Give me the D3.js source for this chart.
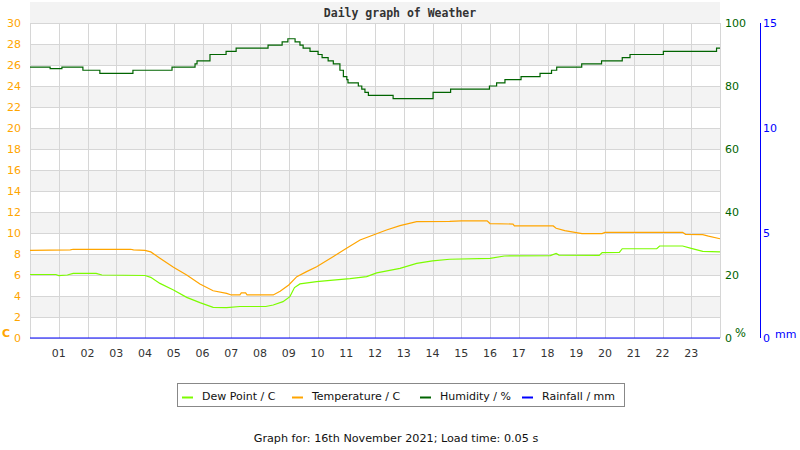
<!DOCTYPE html>
<html lang="en">
<head>
    <meta charset="UTF-8">
    <title>Daily graph of Weather</title>
    <style>
        body { margin: 0; background: #fff; }
        text { font-family: "DejaVu Sans", sans-serif; }
    </style>
</head>
<body>
<script src="https://cdn.jsdelivr.net/npm/d3@7/dist/d3.min.js"></script>
<script type="text/javascript">
    // chart size and plot area
    var w = 800;
    var h = 450;
    var plotLeft = 30, plotRight = 720, plotTop = 23, plotBottom = 338;

    // hour tick labels
    var hourLabels = ["01","02","03","04","05","06","07","08","09","10","11","12",
        "13","14","15","16","17","18","19","20","21","22","23"];
    var tempTicks = [0, 2, 4, 6, 8, 10, 12, 14, 16, 18, 20, 22, 24, 26, 28, 30];
    var humTicks = [0, 20, 40, 60, 80, 100];
    var rainTicks = [0, 5, 10, 15];

    // temperature / C
    var tempHours = [0, 1.4, 1.5, 3.5, 3.6, 4.0, 4.2, 4.52, 4.99, 5.45, 5.91, 6.37, 6.84, 7.0, 7.3, 7.35,
        7.5, 7.55, 8.46, 8.7, 9.0, 9.28, 9.62, 9.97, 10.54, 11.01, 11.48, 11.94, 12.4, 12.87, 13.45,
        14.6, 15.0, 15.9, 16.0, 16.8, 16.85, 18.2, 18.3, 18.6, 19.2, 19.9, 20.0, 22.7, 22.8, 23.4, 23.6, 24];
    var tempValues = [8.35, 8.4, 8.45, 8.45, 8.4, 8.35, 8.2, 7.6, 6.73, 6.0, 5.15, 4.5, 4.25, 4.1, 4.1, 4.3,
        4.3, 4.1, 4.1, 4.45, 5.05, 5.84, 6.32, 6.79, 7.74, 8.54, 9.33, 9.81, 10.29, 10.7, 11.08,
        11.1, 11.15, 11.15, 10.9, 10.85, 10.67, 10.67, 10.45, 10.22, 9.95, 9.95, 10.06, 10.06, 9.87, 9.85, 9.7, 9.45];

    // dew point / C
    var dewHours = [0, 0.9, 1.0, 1.3, 1.5, 2.3, 2.5, 4.0, 4.2, 4.52, 4.99, 5.45, 5.91, 6.37, 6.84, 7.3,
        8.2, 8.46, 8.8, 9.04, 9.2, 9.39, 9.97, 10.54, 11.13, 11.71, 12.06, 12.87, 13.45, 14.0, 14.6,
        16.0, 16.5, 18.1, 18.3, 18.4, 19.8, 19.9, 20.5, 20.6, 21.8, 21.9, 22.7, 23.0, 23.4, 24];
    var dewValues = [6.05, 6.05, 5.95, 6.0, 6.15, 6.15, 6.0, 5.95, 5.78, 5.2, 4.57, 3.87, 3.37, 2.92, 2.9, 3.0,
        3.0, 3.14, 3.46, 3.94, 4.8, 5.15, 5.37, 5.52, 5.65, 5.84, 6.2, 6.63, 7.1, 7.35, 7.5,
        7.59, 7.81, 7.85, 8.06, 7.9, 7.87, 8.13, 8.15, 8.5, 8.5, 8.76, 8.76, 8.54, 8.25, 8.2];

    // humidity / % (stepped)
    var humHours = [0, 0.7, 1.11, 1.84, 2.43, 3.58, 4.94, 5.74, 5.81, 6.26, 6.82, 7.17, 8.28, 8.77, 8.97,
        9.22, 9.39, 9.5, 9.74, 10.02, 10.16, 10.37, 10.55, 10.78, 10.9, 11.02, 11.06, 11.42, 11.54, 11.65,
        11.77, 12.63, 14.02, 14.63, 15.98, 16.23, 16.52, 17.08, 17.74, 18.14, 18.32, 19.19, 19.88, 20.6,
        20.87, 22.03, 23.88, 24];
    var humValues = [86, 85.5, 86, 85, 84, 85, 86, 87, 88, 90, 91, 92, 93, 94, 95,
        94, 93, 92, 91, 90, 89, 88, 87, 85, 83, 82, 81, 80, 79, 78,
        77, 76, 78, 79, 80, 81, 82, 83, 84, 85, 86, 87, 88, 89,
        90, 91, 92, 92];

    // rainfall / mm
    var rainHours = [0, 24];
    var rainValues = [0, 0];

    var legendNames = ["Dew Point / C", "Temperature / C", "Humidity / %", "Rainfall / mm"];
    var legendColors = ["#7cfc00", "#ffa500", "#006400", "#0000ff"];

    var xScale = d3.scaleLinear().domain([0, 24]).range([plotLeft, plotRight]);
    var tScale = d3.scaleLinear().domain([0, 30]).range([plotBottom, plotTop]);
    var hScale = d3.scaleLinear().domain([0, 100]).range([plotBottom, plotTop]);
    var rScale = d3.scaleLinear().domain([0, 15]).range([plotBottom, plotTop]);

    var svg = d3.select("body")
        .append("svg")
        .attr("width", w)
        .attr("height", h);

    // shaded bands
    svg.selectAll("rect.band")
        .data(tempTicks.filter(function(d) { return d % 4 === 2; }))
        .enter()
        .append("rect")
        .attr("class", "band")
        .attr("x", plotLeft)
        .attr("y", function(d) { return tScale(d + 2); })
        .attr("width", plotRight - plotLeft)
        .attr("height", function(d) { return tScale(d) - tScale(d + 2); })
        .attr("fill", "#f3f3f3");

    // grid
    svg.selectAll("line.hgrid")
        .data(tempTicks)
        .enter()
        .append("line")
        .attr("class", "hgrid")
        .attr("x1", plotLeft).attr("x2", plotRight)
        .attr("y1", function(d) { return Math.round(tScale(d)) + 0.5; })
        .attr("y2", function(d) { return Math.round(tScale(d)) + 0.5; })
        .attr("stroke", "#d6d6d6");
    svg.selectAll("line.vgrid")
        .data(d3.range(0, 25))
        .enter()
        .append("line")
        .attr("class", "vgrid")
        .attr("x1", function(d) { return Math.round(xScale(d)) + 0.5; })
        .attr("x2", function(d) { return Math.round(xScale(d)) + 0.5; })
        .attr("y1", plotTop).attr("y2", plotBottom)
        .attr("stroke", "#d6d6d6");

    // left axis labels
    svg.selectAll("text.tl")
        .data(tempTicks)
        .enter()
        .append("text")
        .attr("class", "tl")
        .attr("x", 21)
        .attr("y", function(d) { return tScale(d) + 4; })
        .attr("text-anchor", "end")
        .attr("font-size", "11px")
        .attr("fill", "#ffa500")
        .text(function(d) { return d; });
    svg.append("text")
        .attr("x", 2).attr("y", 337)
        .attr("font-size", "11px").attr("font-weight", "bold")
        .attr("fill", "#ffa500")
        .text("C");

    // humidity axis labels
    svg.selectAll("text.hl")
        .data(humTicks)
        .enter()
        .append("text")
        .attr("class", "hl")
        .attr("x", 725)
        .attr("y", function(d) { return hScale(d) + 4; })
        .attr("font-size", "11px")
        .attr("fill", "#006400")
        .text(function(d) { return d; });
    svg.append("text")
        .attr("x", 735).attr("y", 337)
        .attr("font-size", "11.5px")
        .attr("fill", "#006400")
        .text("%");

    // rainfall axis
    svg.append("line")
        .attr("x1", 760.5).attr("x2", 760.5)
        .attr("y1", plotTop).attr("y2", plotBottom)
        .attr("stroke", "#0000ff");
    svg.selectAll("text.rl")
        .data(rainTicks)
        .enter()
        .append("text")
        .attr("class", "rl")
        .attr("x", 763)
        .attr("y", function(d) { return rScale(d) + 4; })
        .attr("font-size", "11px")
        .attr("fill", "#0000ff")
        .text(function(d) { return d; });
    svg.append("text")
        .attr("x", 775).attr("y", 338)
        .attr("font-size", "11px")
        .attr("fill", "#0000ff")
        .text("mm");

    // hour labels
    svg.selectAll("text.xl")
        .data(hourLabels)
        .enter()
        .append("text")
        .attr("class", "xl")
        .attr("x", function(d, i) { return xScale(i + 1); })
        .attr("y", 357)
        .attr("text-anchor", "middle")
        .attr("font-size", "11px")
        .attr("fill", "#333")
        .text(function(d) { return d; });

    // series
    function drawSeries(hours, values, scale, color, curve) {
        var line = d3.line()
            .x(function(d) { return xScale(d[0]); })
            .y(function(d) { return scale(d[1]); })
            .curve(curve);
        svg.append("path")
            .datum(d3.zip(hours, values))
            .attr("d", line)
            .attr("fill", "none")
            .attr("stroke", color)
            .attr("stroke-width", 1.2);
    }
    drawSeries(humHours, humValues, hScale, "#006400", d3.curveStepAfter);
    drawSeries(tempHours, tempValues, tScale, "#ffa500", d3.curveLinear);
    drawSeries(dewHours, dewValues, tScale, "#7cfc00", d3.curveLinear);
    drawSeries(rainHours, rainValues, rScale, "#0000ff", d3.curveLinear);

    // title
    svg.append("text")
        .attr("x", 400).attr("y", 17)
        .attr("text-anchor", "middle")
        .style("font-family", "'DejaVu Sans Mono', monospace")
        .attr("font-size", "11.5px")
        .attr("font-weight", "bold")
        .attr("fill", "#333")
        .text("Daily graph of Weather");

    // legend
    var legendX = [182, 292, 420, 522];
    svg.append("rect")
        .attr("x", 177.5).attr("y", 383.5)
        .attr("width", 447).attr("height", 23)
        .attr("fill", "none")
        .attr("stroke", "#888");
    var items = svg.selectAll("g.legend")
        .data(legendNames)
        .enter()
        .append("g")
        .attr("class", "legend")
        .attr("transform", function(d, i) { return "translate(" + legendX[i] + ",0)"; });
    items.append("line")
        .attr("x1", 0).attr("x2", 11)
        .attr("y1", 397.5).attr("y2", 397.5)
        .attr("stroke", function(d, i) { return legendColors[i]; })
        .attr("stroke-width", 2);
    items.append("text")
        .attr("x", 20).attr("y", 400)
        .attr("font-size", "11px")
        .attr("fill", "#111")
        .text(function(d) { return d; });

    // footer
    svg.append("text")
        .attr("x", 396).attr("y", 442)
        .attr("text-anchor", "middle")
        .attr("font-size", "11.2px")
        .attr("fill", "#111")
        .text("Graph for: 16th November 2021; Load time: 0.05 s");
</script>
</body>
</html>
